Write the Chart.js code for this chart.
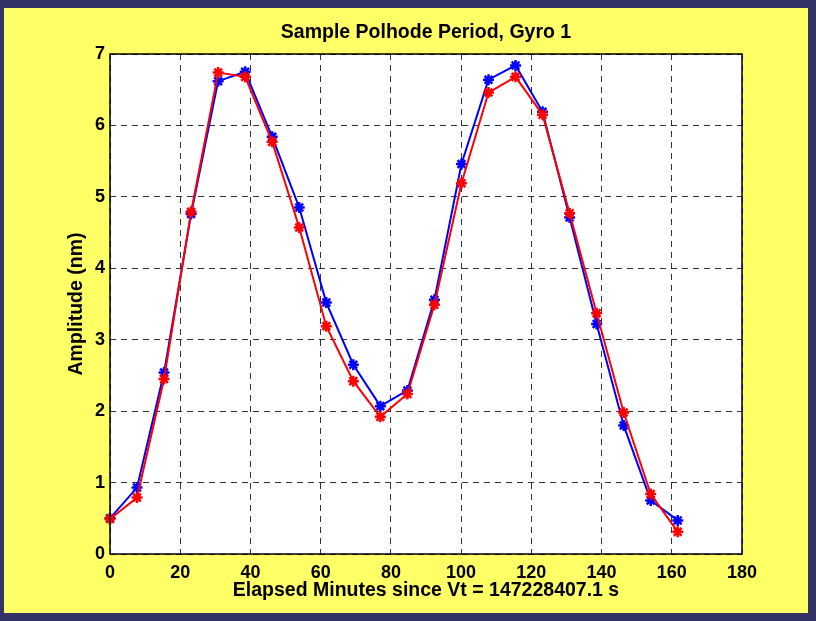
<!DOCTYPE html>
<html lang="en">
<head>
  <meta charset="UTF-8">
  <title>Sample Polhode Period, Gyro 1</title>
  <script src="https://cdn.jsdelivr.net/npm/chart.js"></script>
  <style>
    body { margin: 0; background: #333366; width: 816px; height: 621px; overflow: hidden; }
    #frame { position: absolute; left: 4px; top: 8px; width: 804px; height: 605px; background: #ffff66; }
    canvas { position: absolute; left: 0; top: 0; }
  </style>
</head>
<body>
  <div id="frame"></div>
  <canvas id="polhodeChart" width="816" height="621"></canvas>

  <script>
    // elapsed minutes for each sample
    const minutes = [0, 7.7, 15.4, 23.1, 30.8, 38.5, 46.2, 53.9, 61.6, 69.3, 77, 84.7,
                     92.4, 100.1, 107.8, 115.5, 123.2, 130.9, 138.6, 146.3, 154, 161.7];
    // amplitude (nm), blue and red traces
    const blueAmp = [0.50, 0.93, 2.54, 4.76, 6.62, 6.75, 5.84, 4.85, 3.52, 2.65, 2.07, 2.29,
                     3.56, 5.46, 6.64, 6.84, 6.19, 4.71, 3.22, 1.80, 0.75, 0.47];
    const redAmp  = [0.49, 0.79, 2.45, 4.79, 6.74, 6.68, 5.77, 4.57, 3.19, 2.42, 1.92, 2.24,
                     3.49, 5.19, 6.46, 6.68, 6.15, 4.77, 3.37, 1.98, 0.84, 0.31];

    const FONT = 'Arial, "Liberation Sans", Helvetica, sans-serif';

    function points(ys) {
      return minutes.map((x, i) => ({ x: x, y: ys[i] }));
    }

    // white plot area + black box around it
    const plotBox = {
      id: 'plotBox',
      beforeDraw(chart) {
        const a = chart.chartArea, ctx = chart.ctx;
        ctx.save();
        ctx.fillStyle = '#ffffff';
        ctx.fillRect(a.left, a.top, a.right - a.left, a.bottom - a.top);
        ctx.restore();
      },
      afterDatasetsDraw(chart) {
        const a = chart.chartArea, ctx = chart.ctx;
        ctx.save();
        ctx.strokeStyle = '#000000';
        ctx.lineWidth = 1.5;
        ctx.strokeRect(a.left, a.top, a.right - a.left, a.bottom - a.top);
        ctx.restore();
      }
    };

    new Chart(document.getElementById('polhodeChart'), {
      type: 'line',
      data: {
        datasets: [
          {
            label: 'Red',
            data: points(redAmp),
            borderColor: '#ff0000',
            backgroundColor: '#ff0000',
            borderWidth: 2,
            pointStyle: 'star',
            pointRadius: 5.5,
            pointBorderWidth: 2.5,
            order: 0,
            clip: false
          },
          {
            label: 'Blue',
            data: points(blueAmp),
            borderColor: '#0000ff',
            backgroundColor: '#0000ff',
            borderWidth: 2,
            pointStyle: 'star',
            pointRadius: 5.5,
            pointBorderWidth: 2.5,
            order: 1,
            clip: false
          }
        ]
      },
      options: {
        responsive: false,
        animation: false,
        layout: { padding: { left: 0, top: 8, right: 74, bottom: 0 } },
        plugins: {
          legend: { display: false },
          tooltip: { enabled: false },
          title: {
            display: true,
            fullSize: false,
            text: 'Sample Polhode Period, Gyro 1',
            color: '#000000',
            font: { family: FONT, size: 19.5, weight: 'bold', lineHeight: 1.2 },
            padding: { top: 13.3, bottom: 9.3 }
          }
        },
        scales: {
          x: {
            type: 'linear',
            min: 0,
            max: 180,
            afterFit(scale) { scale.height = 67; },
            ticks: {
              stepSize: 20,
              padding: 8,
              color: '#000000',
              maxRotation: 0,
              font: { family: FONT, size: 18, weight: 'bold' }
            },
            grid: {
              color: 'rgba(0,0,0,0.8)',
              lineWidth: 1,
              drawTicks: false
            },
            border: { display: false, dash: [6, 5] },
            title: {
              display: true,
              text: 'Elapsed Minutes since Vt = 147228407.1 s',
              color: '#000000',
              font: { family: FONT, size: 19.5, weight: 'bold', lineHeight: 1.2 },
              padding: { top: 0, bottom: 18.5 }
            }
          },
          y: {
            min: 0,
            max: 7,
            afterFit(scale) { scale.width = 110; },
            ticks: {
              stepSize: 1,
              padding: 5,
              color: '#000000',
              font: { family: FONT, size: 18, weight: 'bold' }
            },
            grid: {
              color: 'rgba(0,0,0,0.8)',
              lineWidth: 1,
              drawTicks: false
            },
            border: { display: false, dash: [6, 5] },
            title: {
              display: true,
              text: 'Amplitude (nm)',
              color: '#000000',
              font: { family: FONT, size: 19.5, weight: 'bold', lineHeight: 1.2 },
              padding: { top: 65.3, bottom: 0 }
            }
          }
        }
      },
      plugins: [plotBox]
    });
  </script>
</body>
</html>
